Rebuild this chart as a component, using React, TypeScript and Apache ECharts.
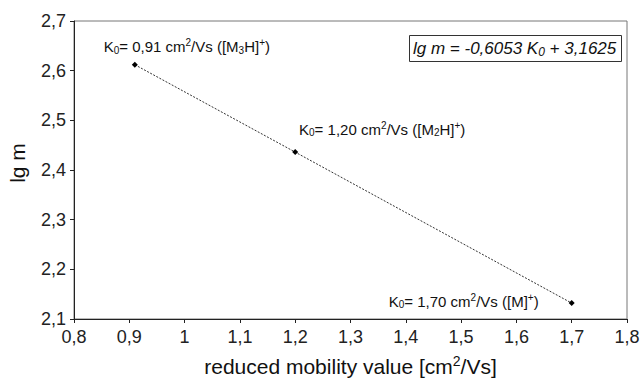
import React, { useEffect, useRef } from "react";
import * as echarts from "echarts";

const mobility = [0.91, 1.2, 1.7];
const lgM = [2.612, 2.436, 2.132];
const pointLabels = [
  "{n|K}{sub|0}{n|= 0,91 cm}{sup|2}{n|/Vs ([M}{sub|3}{n|H]}{sup|+}{n|)}",
  "{n|K}{sub|0}{n|= 1,20 cm}{sup|2}{n|/Vs ([M}{sub|2}{n|H]}{sup|+}{n|)}",
  "{n|K}{sub|0}{n|= 1,70 cm}{sup|2}{n|/Vs ([M]}{sup|+}{n|)}",
];
const labelOffsets = [
  [52, -18],
  [87, -23],
  [-108, -2],
];
const equation = "{n|lg m = -0,6053 K}{sub|0}{n| + 3,1625}";
const xName = "{n|reduced mobility value [cm}{sup|2}{n|/Vs]}";
const yName = "lg m";

const FONT = "Liberation Sans, Arial, Helvetica, sans-serif";

const richBase = (size: number, italic = false) => ({
  n: {
    fontSize: size,
    fontFamily: FONT,
    color: "#111",
    fontWeight: "normal",
    fontStyle: italic ? "italic" : "normal",
  },
  sub: {
    fontSize: Math.round(size * 0.68),
    fontFamily: FONT,
    color: "#111",
    fontWeight: "normal",
    fontStyle: italic ? "italic" : "normal",
    padding: [Math.round(size * 0.45), 0, 0, 0],
  },
  sup: {
    fontSize: Math.round(size * 0.68),
    fontFamily: FONT,
    color: "#111",
    fontWeight: "normal",
    fontStyle: italic ? "italic" : "normal",
    padding: [0, 0, Math.round(size * 0.5), 0],
  },
});

export default function App() {
  const ref = useRef<HTMLDivElement>(null);
  useEffect(() => {
    if (!ref.current) return;
    const chart = echarts.init(ref.current, undefined, { renderer: "svg" });
    const fmt = (v: number) => String(Math.round(v * 10) / 10).replace(".", ",");
    chart.setOption({
      animation: false,
      backgroundColor: "#fff",
      title: {
        text: equation,
        left: 409,
        top: 34,
        borderColor: "#333",
        borderWidth: 1,
        padding: [4, 5, 4, 4],
        textStyle: { fontWeight: "normal", rich: richBase(17, true) },
      },
      grid: {
        left: 74,
        right: 15,
        top: 21,
        bottom: 62,
        show: true,
        borderColor: "#777",
        borderWidth: 1,
        containLabel: false,
        outerBoundsMode: "none",
      },
      xAxis: {
        type: "value",
        min: 0.8,
        max: 1.8,
        interval: 0.1,
        name: xName,
        nameLocation: "middle",
        nameGap: 35,
        nameTextStyle: { rich: richBase(21) },
        axisLine: { lineStyle: { color: "#222", width: 1 } },
        axisTick: { show: true, length: 4, lineStyle: { color: "#222" } },
        axisLabel: { formatter: fmt, fontSize: 18, fontFamily: FONT, color: "#222", margin: 9 },
        splitLine: { show: false },
      },
      yAxis: {
        type: "value",
        min: 2.1,
        max: 2.7,
        interval: 0.1,
        name: yName,
        nameLocation: "middle",
        nameGap: 46,
        nameTextStyle: { fontSize: 21, fontFamily: FONT, color: "#111", padding: [0, 0, 0, 14] },
        axisLine: { show: true, lineStyle: { color: "#222", width: 1 } },
        axisTick: { show: true, length: 4, lineStyle: { color: "#222" } },
        axisLabel: { formatter: fmt, fontSize: 18, fontFamily: FONT, color: "#222", margin: 8 },
        splitLine: { show: false },
      },
      series: [
        {
          type: "line",
          data: mobility.map((x, i) => ({
            value: [x, lgM[i]],
            label: {
              show: true,
              position: "inside",
              offset: labelOffsets[i],
              formatter: pointLabels[i],
              rich: richBase(15),
            },
          })),
          symbol: "diamond",
          symbolSize: 6,
          itemStyle: { color: "#000" },
          lineStyle: { color: "#333", width: 1, type: [2, 1.5] },
        },
      ],
    });
    return () => chart.dispose();
  }, []);
  return <div ref={ref} style={{ width: 642, height: 381, position: "fixed", left: 0, top: 0 }} />;
}
